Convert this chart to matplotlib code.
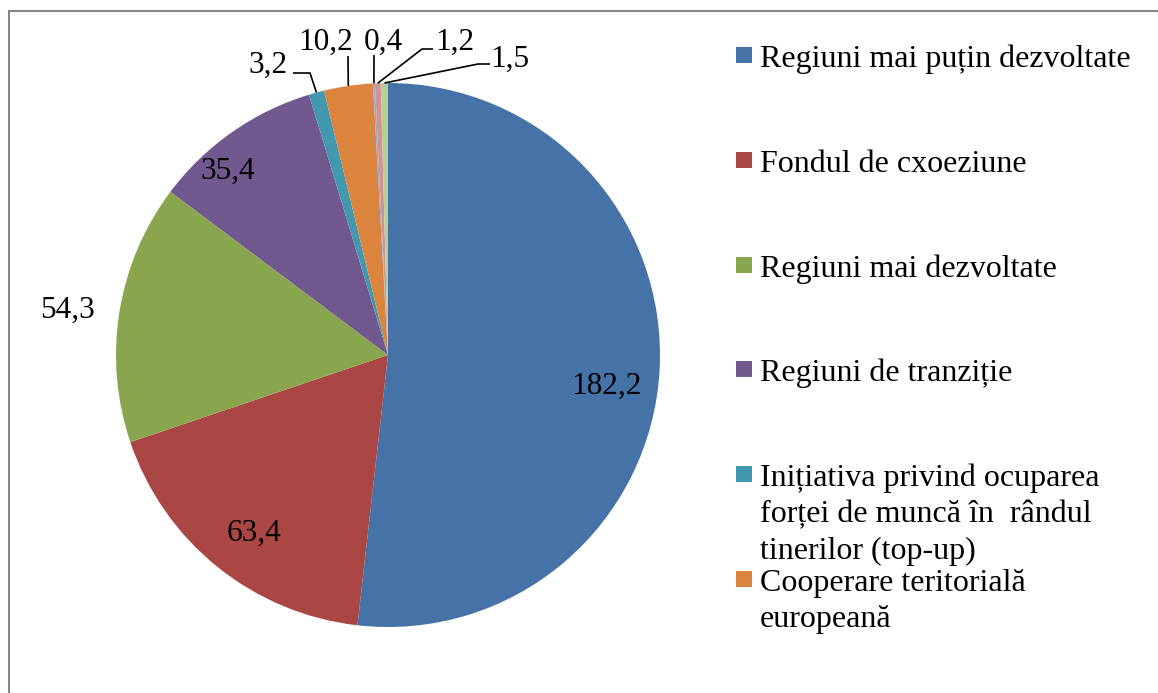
import numpy as np
import matplotlib
matplotlib.use('Agg')
import matplotlib.pyplot as plt
from matplotlib.patches import Rectangle
from matplotlib.lines import Line2D

# values, clockwise from 12 o'clock
values = [182.2, 63.4, 54.3, 35.4, 3.2, 10.2, 0.4, 1.2, 1.5]
value_labels = ['182,2', '63,4', '54,3', '35,4', '3,2', '10,2', '0,4', '1,2', '1,5']
legend_labels = ['Regiuni mai puțin dezvoltate',
                 'Fondul de cxoeziune',
                 'Regiuni mai dezvoltate',
                 'Regiuni de tranziție',
                 'Inițiativa privind ocuparea\nforței de muncă în  rândul\ntinerilor (top-up)',
                 'Cooperare teritorială\neuropeană']
colors = ['#4572A7', '#AA4643', '#89A54E', '#71588F', '#4198AF', '#DB843D',
          '#93A9CF', '#D19392', '#B9CD96']

W, H = 1158, 693
plt.rcParams['font.family'] = ['Liberation Serif', 'DejaVu Serif']
FS_LAB = 22.5
FS_LEG = 23

fig = plt.figure(figsize=(W / 100, H / 100), dpi=100)
ax = fig.add_axes([0, 0, 1, 1])

def Y(y_img):
    return H - y_img

cx, cy, r = 388, Y(355), 272
wedges, _ = ax.pie(values, colors=colors, startangle=90, counterclock=False,
                   center=(cx, cy), radius=r, frame=True,
                   wedgeprops=dict(linewidth=0))
ax.set_xlim(0, W)
ax.set_ylim(0, H)
ax.set_aspect('equal')
ax.axis('off')

# label text positions (image px, x center / baseline)
label_pos = [(606, 394), (254, 541), (68, 318), (228, 179), (268, 73),
             (326, 50), (383, 50), (455, 50), (510, 67)]
# leader lines for small slices: elbow points (image px)
leaders = {4: [(293, 73), (310, 73)],
           5: [(348, 56)],
           6: [(374, 55)],
           7: [(433, 49), (422, 49)],
           8: [(490, 64), (478, 64)]}

for i, (w, txt) in enumerate(zip(wedges, value_labels)):
    x, y = label_pos[i]
    ax.text(x, Y(y), txt, fontsize=FS_LAB, ha='center', va='baseline', color='black')
    if i in leaders:
        mid = np.deg2rad((w.theta1 + w.theta2) / 2)
        ex, ey = cx + r * np.cos(mid), cy + r * np.sin(mid)
        pts = leaders[i]
        xs = [p[0] for p in pts] + [ex]
        ys = [Y(p[1]) for p in pts] + [ey]
        ax.plot(xs, ys, color='black', lw=1.2, solid_capstyle='butt')

# legend (only first six entries visible)
leg_y = [55, 160, 265, 369, 474, 579]
for lab, col, yc in zip(legend_labels, colors, leg_y):
    ax.add_patch(Rectangle((736, Y(yc) - 8), 16, 16, color=col, lw=0))
    for k, line in enumerate(lab.split('\n')):
        ax.text(760, Y(yc + 12 + 36.5 * k), line, fontsize=FS_LEG,
                ha='left', va='baseline')

# frame (top and left edges visible)
fig.add_artist(Line2D([8.5 / W, 1], [1 - 10.5 / H, 1 - 10.5 / H], color='#868686', lw=1.5))
fig.add_artist(Line2D([8.5 / W, 8.5 / W], [0, 1 - 10.5 / H], color='#868686', lw=1.5))

fig.savefig('out.png', dpi=100)
